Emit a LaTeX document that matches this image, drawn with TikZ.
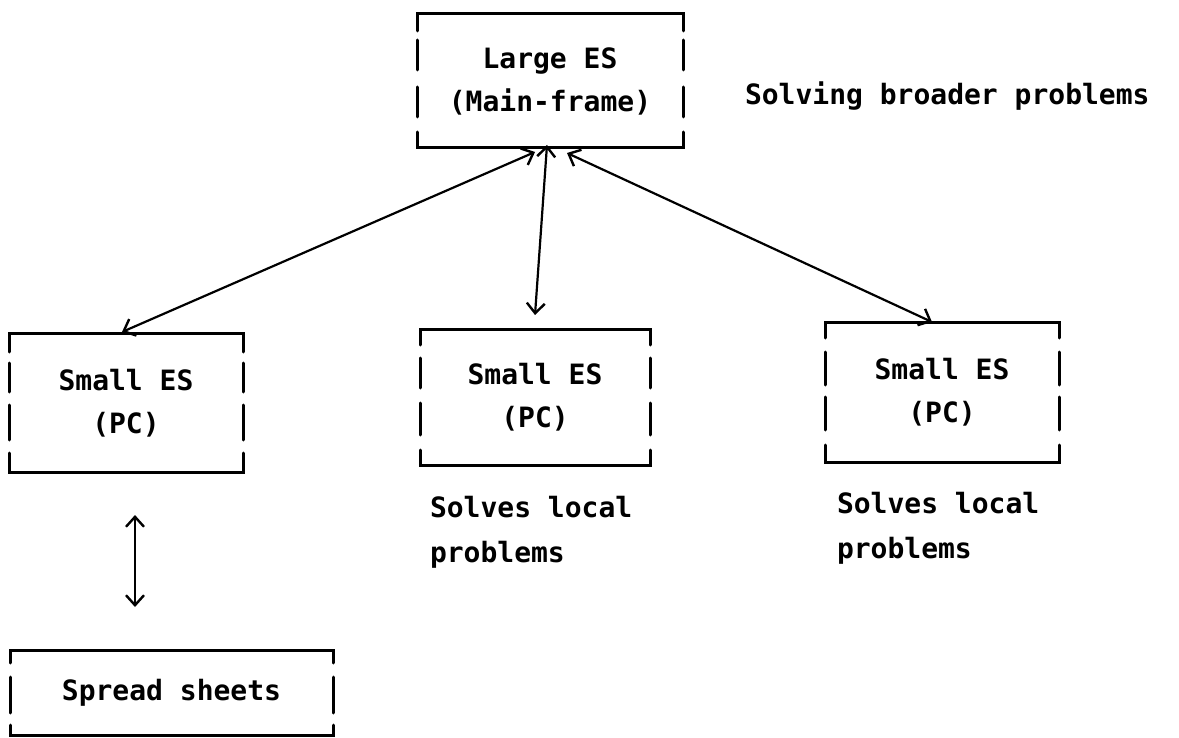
\documentclass[tikz,border=0pt]{standalone}
\usepackage{fontspec}
\setmonofont{DejaVu Sans Mono}
\usetikzlibrary{calc,arrows.meta}
\tikzset{
  esbox/.style={draw=none, inner sep=0pt, outer sep=0pt, align=center,
    font=\ttfamily\bfseries\fontsize{28}{43}\selectfont},
  lbl/.style={inner sep=0pt, outer sep=0pt, anchor=base west,
    font=\ttfamily\bfseries\fontsize{28}{43}\selectfont},
  frame/.style={line width=3pt, line cap=round, line join=miter},
  link/.style={line width=2.2pt, {Straight Barb[length=10pt,width=18pt,line width=2.4pt]}-{Straight Barb[length=10pt,width=18pt,line width=2.4pt]}}
}
\newcommand\esframe[4]{% name, top tick, bottom tick, bar list
  \draw[frame] ($(#1.north west)+(0,#2)$) -- (#1.north west) -- (#1.north east) -- ($(#1.north east)+(0,#2)$);
  \draw[frame] ($(#1.south west)+(0,-#3)$) -- (#1.south west) -- (#1.south east) -- ($(#1.south east)+(0,-#3)$);
  \foreach \a/\b in {#4}{
    \draw[frame] ($(#1.north west)+(0,\a)$) -- ($(#1.north west)+(0,\b)$);
    \draw[frame] ($(#1.north east)+(0,\a)$) -- ($(#1.north east)+(0,\b)$);
  }
}
\begin{document}
\begin{tikzpicture}[x=1pt,y=-1pt]
\useasboundingbox (0,0) rectangle (1179,738);
\node[esbox, minimum width=266pt, minimum height=134pt] (L) at (550,81) {Large ES\\(Main-frame)};
\node[esbox, minimum width=234pt, minimum height=138pt] (A) at (126,403) {Small ES\\(PC)};
\node[esbox, minimum width=230pt, minimum height=135pt] (B) at (535,397.5) {Small ES\\(PC)};
\node[esbox, minimum width=234pt, minimum height=139pt] (C) at (942,392.5) {Small ES\\(PC)};
\node[esbox, minimum width=323pt, minimum height=85pt] (S) at (171.5,692.5) {Spread sheets};

\esframe{L}{17}{16}{26/56,73/103}
\esframe{A}{18}{19}{29/58,71/106}
\esframe{B}{15}{15}{28/58,73/105}
\esframe{C}{15}{17}{29/62,74/107}
\esframe{S}{13}{10}{27/63}

\node[lbl] (t1) at (745,105) {Solving broader problems};
\node[lbl] (b1) at (430,517) {Solves local};
\node[lbl] (b2) at (430,562) {problems};
\node[lbl] (c1) at (837,513) {Solves local};
\node[lbl] (c2) at (837,558) {problems};

\draw[link] ([xshift=-15pt,yshift=-4pt]L.south) -- ([xshift=-4pt,yshift=2pt]A.north);
\draw[link] ([xshift=-3pt,yshift=3pt]L.south) -- ([xshift=0pt,yshift=15pt]B.north);
\draw[link] ([xshift=17pt,yshift=-5pt]L.south) -- ([xshift=-10pt,yshift=1pt]C.north);
\draw[link] ([xshift=9pt,yshift=-43pt]A.south) -- ([xshift=-36.5pt,yshift=43pt]S.north);
\end{tikzpicture}
\end{document}
